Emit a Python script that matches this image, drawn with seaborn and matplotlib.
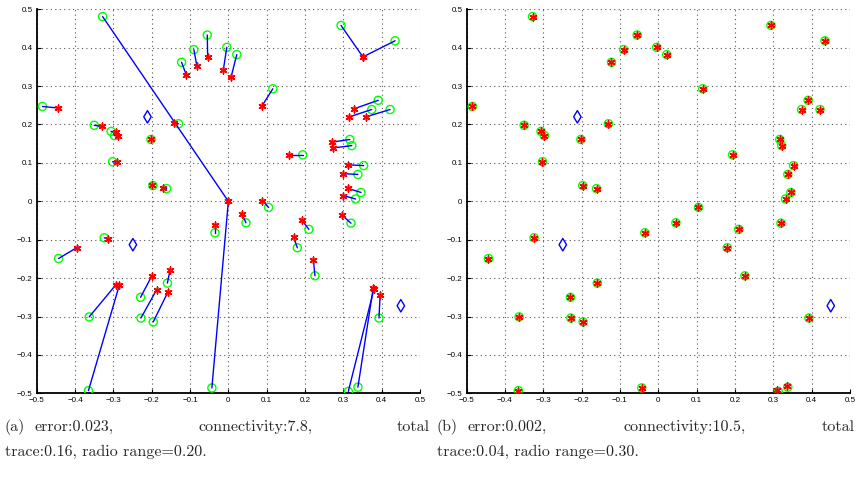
import numpy as np
import pandas as pd
import matplotlib
matplotlib.use("Agg")
import matplotlib.pyplot as plt
import seaborn as sns

# true node positions (green circles)
true_x = [-0.328, -0.485, -0.350, -0.306, -0.297, -0.302, -0.202, -0.197, -0.161, -0.130,
          -0.122, -0.090, -0.055, -0.004, 0.022, 0.116, 0.294, 0.435, 0.391, 0.374,
          0.422, 0.317, 0.322, 0.194, 0.353, 0.338, 0.346, 0.332, 0.046, 0.105,
          0.210, 0.320, 0.180, 0.226, 0.313, 0.338, 0.393, -0.043, -0.035, -0.443,
          -0.324, -0.363, -0.365, -0.229, -0.228, -0.196, -0.159]
true_y = [0.481, 0.247, 0.198, 0.182, 0.171, 0.103, 0.161, 0.041, 0.033, 0.202,
          0.362, 0.395, 0.433, 0.401, 0.382, 0.293, 0.458, 0.418, 0.263, 0.239,
          0.239, 0.161, 0.145, 0.121, 0.093, 0.070, 0.023, 0.006, -0.056, -0.016,
          -0.073, -0.057, -0.121, -0.194, -0.495, -0.484, -0.304, -0.486, -0.082, -0.149,
          -0.095, -0.301, -0.493, -0.250, -0.304, -0.314, -0.213]

# estimated positions, panel (a) (red stars)
est_a_x = [0.000, -0.445, -0.330, -0.294, -0.287, -0.291, -0.202, -0.199, -0.170, -0.142,
           -0.110, -0.082, -0.054, -0.013, 0.007, 0.087, 0.351, 0.351, 0.328, 0.316,
           0.359, 0.270, 0.274, 0.157, 0.312, 0.298, 0.311, 0.300, 0.035, 0.089,
           0.191, 0.296, 0.170, 0.222, 0.380, 0.378, 0.396, 0.000, -0.035, -0.396,
           -0.313, -0.293, -0.284, -0.200, -0.187, -0.158, -0.152]
est_a_y = [0.000, 0.243, 0.195, 0.180, 0.169, 0.102, 0.162, 0.043, 0.035, 0.204,
           0.330, 0.352, 0.376, 0.343, 0.323, 0.247, 0.376, 0.376, 0.241, 0.220,
           0.220, 0.154, 0.139, 0.121, 0.095, 0.072, 0.034, 0.015, -0.032, 0.002,
           -0.048, -0.036, -0.093, -0.154, -0.228, -0.226, -0.243, 0.000, -0.061, -0.121,
           -0.098, -0.217, -0.217, -0.195, -0.230, -0.237, -0.178]

# estimated positions, panel (b)
est_b_x = [-0.328, -0.485, -0.350, -0.306, -0.297, -0.302, -0.202, -0.197, -0.161, -0.130,
           -0.122, -0.090, -0.055, -0.004, 0.022, 0.116, 0.294, 0.435, 0.391, 0.374,
           0.422, 0.317, 0.322, 0.194, 0.353, 0.338, 0.346, 0.332, 0.046, 0.105,
           0.210, 0.320, 0.180, 0.226, 0.311, 0.336, 0.393, -0.043, -0.035, -0.443,
           -0.324, -0.363, -0.365, -0.229, -0.228, -0.196, -0.159]
est_b_y = [0.481, 0.247, 0.198, 0.182, 0.171, 0.103, 0.161, 0.041, 0.033, 0.202,
           0.362, 0.395, 0.433, 0.401, 0.382, 0.293, 0.458, 0.418, 0.263, 0.239,
           0.239, 0.161, 0.145, 0.121, 0.093, 0.070, 0.023, 0.006, -0.056, -0.016,
           -0.073, -0.057, -0.121, -0.194, -0.492, -0.480, -0.304, -0.486, -0.082, -0.149,
           -0.095, -0.301, -0.493, -0.250, -0.304, -0.314, -0.213]

# anchor nodes (blue diamonds)
anchor_x = [-0.211, -0.249, 0.450]
anchor_y = [0.220, -0.113, -0.272]

ticks = [-0.5, -0.4, -0.3, -0.2, -0.1, 0, 0.1, 0.2, 0.3, 0.4, 0.5]
tick_labels = ["\u22120.5", "\u22120.4", "\u22120.3", "\u22120.2", "\u22120.1", "0",
               "0.1", "0.2", "0.3", "0.4", "0.5"]

captions_a = ["(a)", "error:0.023,", "connectivity:7.8,", "total", "trace:0.16, radio range=0.20."]
captions_b = ["(b)", "error:0.002,", "connectivity:10.5,", "total", "trace:0.04, radio range=0.30."]

sns.set_style("white")
plt.rcParams['font.family'] = ['Liberation Sans', 'DejaVu Sans']

W, H = 856, 479
fig = plt.figure(figsize=(W / 100, H / 100), dpi=100)

def px_axes(l, t, r, b):
    return fig.add_axes([l / W, 1 - b / H, (r - l) / W, (b - t) / H])

ax_a = px_axes(36.7, 9.3, 420.0, 393.3)
ax_b = px_axes(466.6, 9.3, 849.9, 393.3)

def draw(ax, ex, ey):
    df_true = pd.DataFrame({"x": true_x, "y": true_y})
    df_est = pd.DataFrame({"x": ex, "y": ey})
    df_anc = pd.DataFrame({"x": anchor_x, "y": anchor_y})
    sns.scatterplot(data=df_true, x="x", y="y", ax=ax, marker="o", s=34,
                    facecolor="none", edgecolor=(0, 1, 0), linewidth=1.0, zorder=3)
    for tx, ty, sx, sy in zip(true_x, true_y, ex, ey):
        ax.plot([tx, sx], [ty, sy], color=(0, 0, 1), lw=1.0, zorder=4)
    sns.scatterplot(data=df_est, x="x", y="y", ax=ax, marker=(6, 2, 0), s=24,
                    color=(1, 0, 0), edgecolor=(1, 0, 0), linewidth=1.1, zorder=5)
    sns.scatterplot(data=df_anc, x="x", y="y", ax=ax, marker="d", s=40,
                    facecolor="none", edgecolor=(0, 0, 1), linewidth=1.0, zorder=5)
    ax.set_xlim(-0.5, 0.5)
    ax.set_ylim(-0.5, 0.5)
    ax.set_xticks(ticks)
    ax.set_yticks(ticks)
    ax.set_xticklabels(tick_labels)
    ax.set_yticklabels(tick_labels)
    ax.set_xlabel("")
    ax.set_ylabel("")
    ax.grid(True, linestyle=(0, (1, 3)), color="#555555", linewidth=0.8)
    ax.set_axisbelow(True)
    for s in ["top", "right"]:
        ax.spines[s].set_visible(False)
    for s in ["left", "bottom"]:
        ax.spines[s].set_color("black")
        ax.spines[s].set_linewidth(1.3)
    ax.tick_params(axis="both", direction="in", length=3, width=0.8,
                   labelsize=5.8, pad=3, colors="black")
    ax.tick_params(axis="both", left=True, bottom=True)

draw(ax_a, est_a_x, est_a_y)
draw(ax_b, est_b_x, est_b_y)

cap_font = dict(family="cmr10", fontsize=11.5, va="center")
renderer = fig.canvas.get_renderer()

def caption(words, x_left, x_right, line1_y, line2_y):
    # label, then justified words across the line
    texts = [fig.text(0, 1 - line1_y / H, w, ha="left", **cap_font) for w in words[:4]]
    widths = [t.get_window_extent(renderer).width for t in texts]
    label_gap = 9
    start = x_left + widths[0] + label_gap
    free = (x_right - start) - sum(widths[1:])
    gap = free / 2
    xs = [x_left, start, start + widths[1] + gap,
          start + widths[1] + gap + widths[2] + gap]
    for t, x in zip(texts, xs):
        t.set_x(x / W)
    fig.text(x_left / W, 1 - line2_y / H, words[4], ha="left", **cap_font)

caption(captions_a, 5, 430, 427, 452)
caption(captions_b, 437, 855, 427, 452)

fig.savefig("out.png", dpi=100)
